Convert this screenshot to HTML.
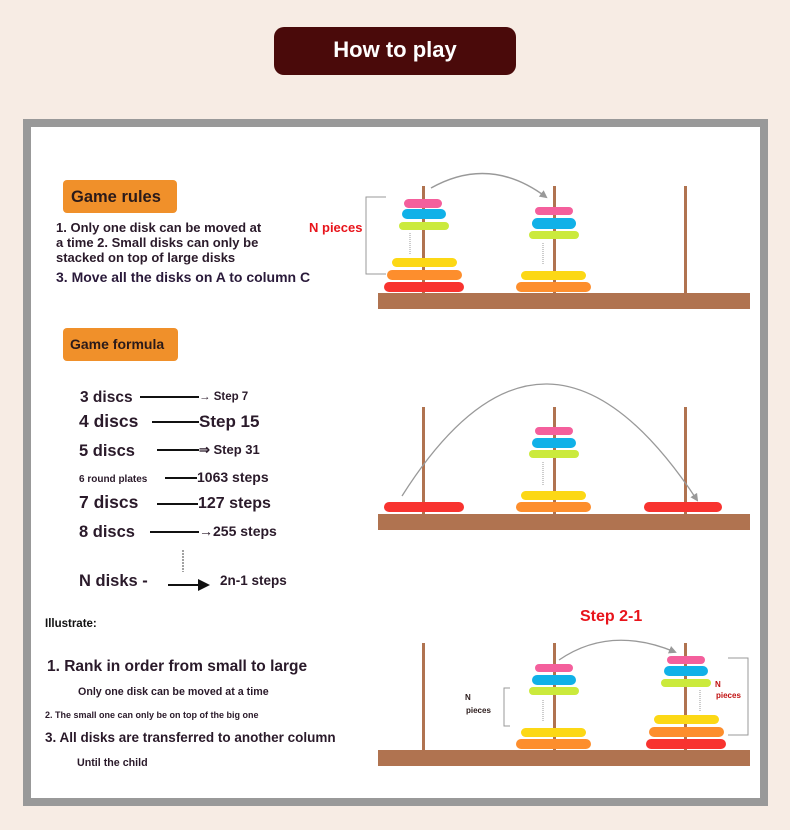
<!DOCTYPE html>
<html><head><meta charset="utf-8"><style>
body{margin:0;background:#f7ece4;}
svg{display:block;font-family:"Liberation Sans",sans-serif;font-weight:bold;}
</style></head><body>
<svg width="790" height="830" viewBox="0 0 790 830">
<defs>
<marker id="ah" markerWidth="8" markerHeight="8" refX="6" refY="4" orient="auto" markerUnits="userSpaceOnUse"><path d="M0,0 L8,4 L0,8 Z" fill="#999"/></marker>
<marker id="bh" markerWidth="12" markerHeight="12" refX="10" refY="6" orient="auto" markerUnits="userSpaceOnUse"><path d="M0,0 L12,6 L0,12 Z" fill="#111"/></marker>
</defs>
<rect x="0" y="0" width="790" height="830" fill="#f7ece4"/>
<rect x="274" y="27" width="242" height="48" rx="10" fill="#4a0a0a"/>
<text x="395" y="57" font-size="22" fill="#fff" text-anchor="middle">How to play</text>
<rect x="27" y="123" width="737" height="679" fill="#fff" stroke="#999" stroke-width="8"/>

<!-- left text -->
<rect x="63" y="180" width="114" height="33" rx="4" fill="#f0902a"/>
<text x="71" y="202" font-size="16.5" fill="#2a1a1a">Game rules</text>
<g font-size="13" fill="#2a1a2a">
<text x="56" y="232">1. Only one disk can be moved at</text>
<text x="56" y="247">a time 2. Small disks can only be</text>
<text x="56" y="262">stacked on top of large disks</text>
</g>
<text x="56" y="282" font-size="14" fill="#2a1a3a">3. Move all the disks on A to column C</text>

<rect x="63" y="328" width="115" height="33" rx="4" fill="#f0902a"/>
<text x="70" y="349" font-size="14" fill="#2a1a1a">Game formula</text>

<g fill="#2a1a2a">
<text x="80" y="402" font-size="15.5">3 discs</text>
<text x="79" y="427" font-size="17.5">4 discs</text>
<text x="79" y="456" font-size="16.5">5 discs</text>
<text x="79" y="482" font-size="10">6 round plates</text>
<text x="79" y="508" font-size="17.5">7 discs</text>
<text x="79" y="537" font-size="16.5">8 discs</text>
<text x="79" y="586" font-size="16.5">N disks -</text>
<text x="199" y="400" font-size="11.5">→ Step 7</text>
<text x="199" y="427" font-size="17">Step 15</text>
<text x="199" y="454" font-size="13">⇒ Step 31</text>
<text x="197" y="482" font-size="14">1063 steps</text>
<text x="198" y="508" font-size="16">127 steps</text>
<text x="199" y="536" font-size="14">→255 steps</text>
<text x="220" y="585" font-size="13.5">2n-1 steps</text>
</g>
<g stroke="#111" stroke-width="2">
<line x1="140" y1="397" x2="199" y2="397"/>
<line x1="152" y1="422" x2="199" y2="422"/>
<line x1="157" y1="450" x2="199" y2="450"/>
<line x1="165" y1="478" x2="197" y2="478"/>
<line x1="157" y1="504" x2="198" y2="504"/>
<line x1="150" y1="532" x2="199" y2="532"/>
<line x1="168" y1="585" x2="208" y2="585" marker-end="url(#bh)"/>
</g>
<line x1="183" y1="550" x2="183" y2="572" stroke="#444" stroke-width="1" stroke-dasharray="2,1"/>

<text x="45" y="627" font-size="11.5" fill="#111">Illustrate:</text>
<text x="47" y="671" font-size="15.5" fill="#2a1a2a">1. Rank in order from small to large</text>
<text x="78" y="695" font-size="10.7" fill="#2a1a2a">Only one disk can be moved at a time</text>
<text x="45" y="718" font-size="9" fill="#2a1a2a">2. The small one can only be on top of the big one</text>
<text x="45" y="742" font-size="13.5" fill="#2a1a2a">3. All disks are transferred to another column</text>
<text x="77" y="766" font-size="10.7" fill="#2a1a2a">Until the child</text>

<!-- panel 1 -->
<g fill="#b07350">
<rect x="378" y="293" width="372" height="16"/>
<rect x="422" y="186" width="3" height="107"/><rect x="553" y="186" width="3" height="107"/><rect x="684" y="186" width="3" height="107"/>
</g>
<rect x="404" y="199" width="38" height="9" rx="4.5" fill="#f45f9c"/>
<rect x="402" y="209" width="44" height="10" rx="5" fill="#10b1e8"/>
<rect x="399" y="222" width="50" height="8" rx="4" fill="#cbea3c"/>
<rect x="392" y="258" width="65" height="9" rx="4.5" fill="#fcd815"/>
<rect x="387" y="270" width="75" height="10" rx="5" fill="#fd8e2d"/>
<rect x="384" y="282" width="80" height="10" rx="5" fill="#f8332f"/>
<rect x="535" y="207" width="38" height="8" rx="4" fill="#f45f9c"/>
<rect x="532" y="218" width="44" height="11" rx="5.5" fill="#10b1e8"/>
<rect x="529" y="231" width="50" height="8" rx="4" fill="#cbea3c"/>
<rect x="521" y="271" width="65" height="9" rx="4.5" fill="#fcd815"/>
<rect x="516" y="282" width="75" height="10" rx="5" fill="#fd8e2d"/>
<line x1="410" y1="233" x2="410" y2="255" stroke="#999" stroke-dasharray="1,1"/>
<line x1="543" y1="243" x2="543" y2="265" stroke="#999" stroke-dasharray="1,1"/>
<path d="M386,197 H366 V274 H386" fill="none" stroke="#999"/>
<text x="309" y="232" font-size="13" fill="#e8141b">N pieces</text>
<path d="M431,188 Q490,155 546,197" fill="none" stroke="#999" stroke-width="1.5" marker-end="url(#ah)"/>

<!-- panel 2 -->
<g fill="#b07350">
<rect x="378" y="514" width="372" height="16"/>
<rect x="422" y="407" width="3" height="107"/><rect x="553" y="407" width="3" height="107"/><rect x="684" y="407" width="3" height="107"/>
</g>
<rect x="384" y="502" width="80" height="10" rx="5" fill="#f8332f"/>
<rect x="535" y="427" width="38" height="8" rx="4" fill="#f45f9c"/>
<rect x="532" y="438" width="44" height="10" rx="5" fill="#10b1e8"/>
<rect x="529" y="450" width="50" height="8" rx="4" fill="#cbea3c"/>
<rect x="521" y="491" width="65" height="9" rx="4.5" fill="#fcd815"/>
<rect x="516" y="502" width="75" height="10" rx="5" fill="#fd8e2d"/>
<rect x="644" y="502" width="78" height="10" rx="5" fill="#f8332f"/>
<line x1="543" y1="462" x2="543" y2="486" stroke="#999" stroke-dasharray="1,1"/>
<path d="M402,496 Q545,270 697,500" fill="none" stroke="#999" stroke-width="1.3" marker-end="url(#ah)"/>

<!-- panel 3 -->
<text x="580" y="621" font-size="16" fill="#e8141b">Step 2-1</text>
<g fill="#b07350">
<rect x="378" y="750" width="372" height="16"/>
<rect x="422" y="643" width="3" height="107"/><rect x="553" y="643" width="3" height="107"/><rect x="684" y="643" width="3" height="107"/>
</g>
<rect x="535" y="664" width="38" height="8" rx="4" fill="#f45f9c"/>
<rect x="532" y="675" width="44" height="10" rx="5" fill="#10b1e8"/>
<rect x="529" y="687" width="50" height="8" rx="4" fill="#cbea3c"/>
<rect x="521" y="728" width="65" height="9" rx="4.5" fill="#fcd815"/>
<rect x="516" y="739" width="75" height="10" rx="5" fill="#fd8e2d"/>
<rect x="667" y="656" width="38" height="8" rx="4" fill="#f45f9c"/>
<rect x="664" y="666" width="44" height="10" rx="5" fill="#10b1e8"/>
<rect x="661" y="679" width="50" height="8" rx="4" fill="#cbea3c"/>
<rect x="654" y="715" width="65" height="9" rx="4.5" fill="#fcd815"/>
<rect x="649" y="727" width="75" height="10" rx="5" fill="#fd8e2d"/>
<rect x="646" y="739" width="80" height="10" rx="5" fill="#f8332f"/>
<line x1="543" y1="700" x2="543" y2="722" stroke="#999" stroke-dasharray="1,1"/>
<line x1="700" y1="690" x2="700" y2="712" stroke="#999" stroke-dasharray="1,1"/>
<path d="M510,688 H504 V726 H510" fill="none" stroke="#999"/>
<path d="M728,658 H748 V735 H728" fill="none" stroke="#999"/>
<text x="465" y="700" font-size="8" fill="#2a1a1a">N</text>
<text x="466" y="713" font-size="8" fill="#2a1a1a">pieces</text>
<text x="715" y="687" font-size="8" fill="#c01010">N</text>
<text x="716" y="698" font-size="8" fill="#c01010">pieces</text>
<path d="M559,660 Q610,625 675,652" fill="none" stroke="#999" stroke-width="1.3" marker-end="url(#ah)"/>
</svg>
</body></html>
